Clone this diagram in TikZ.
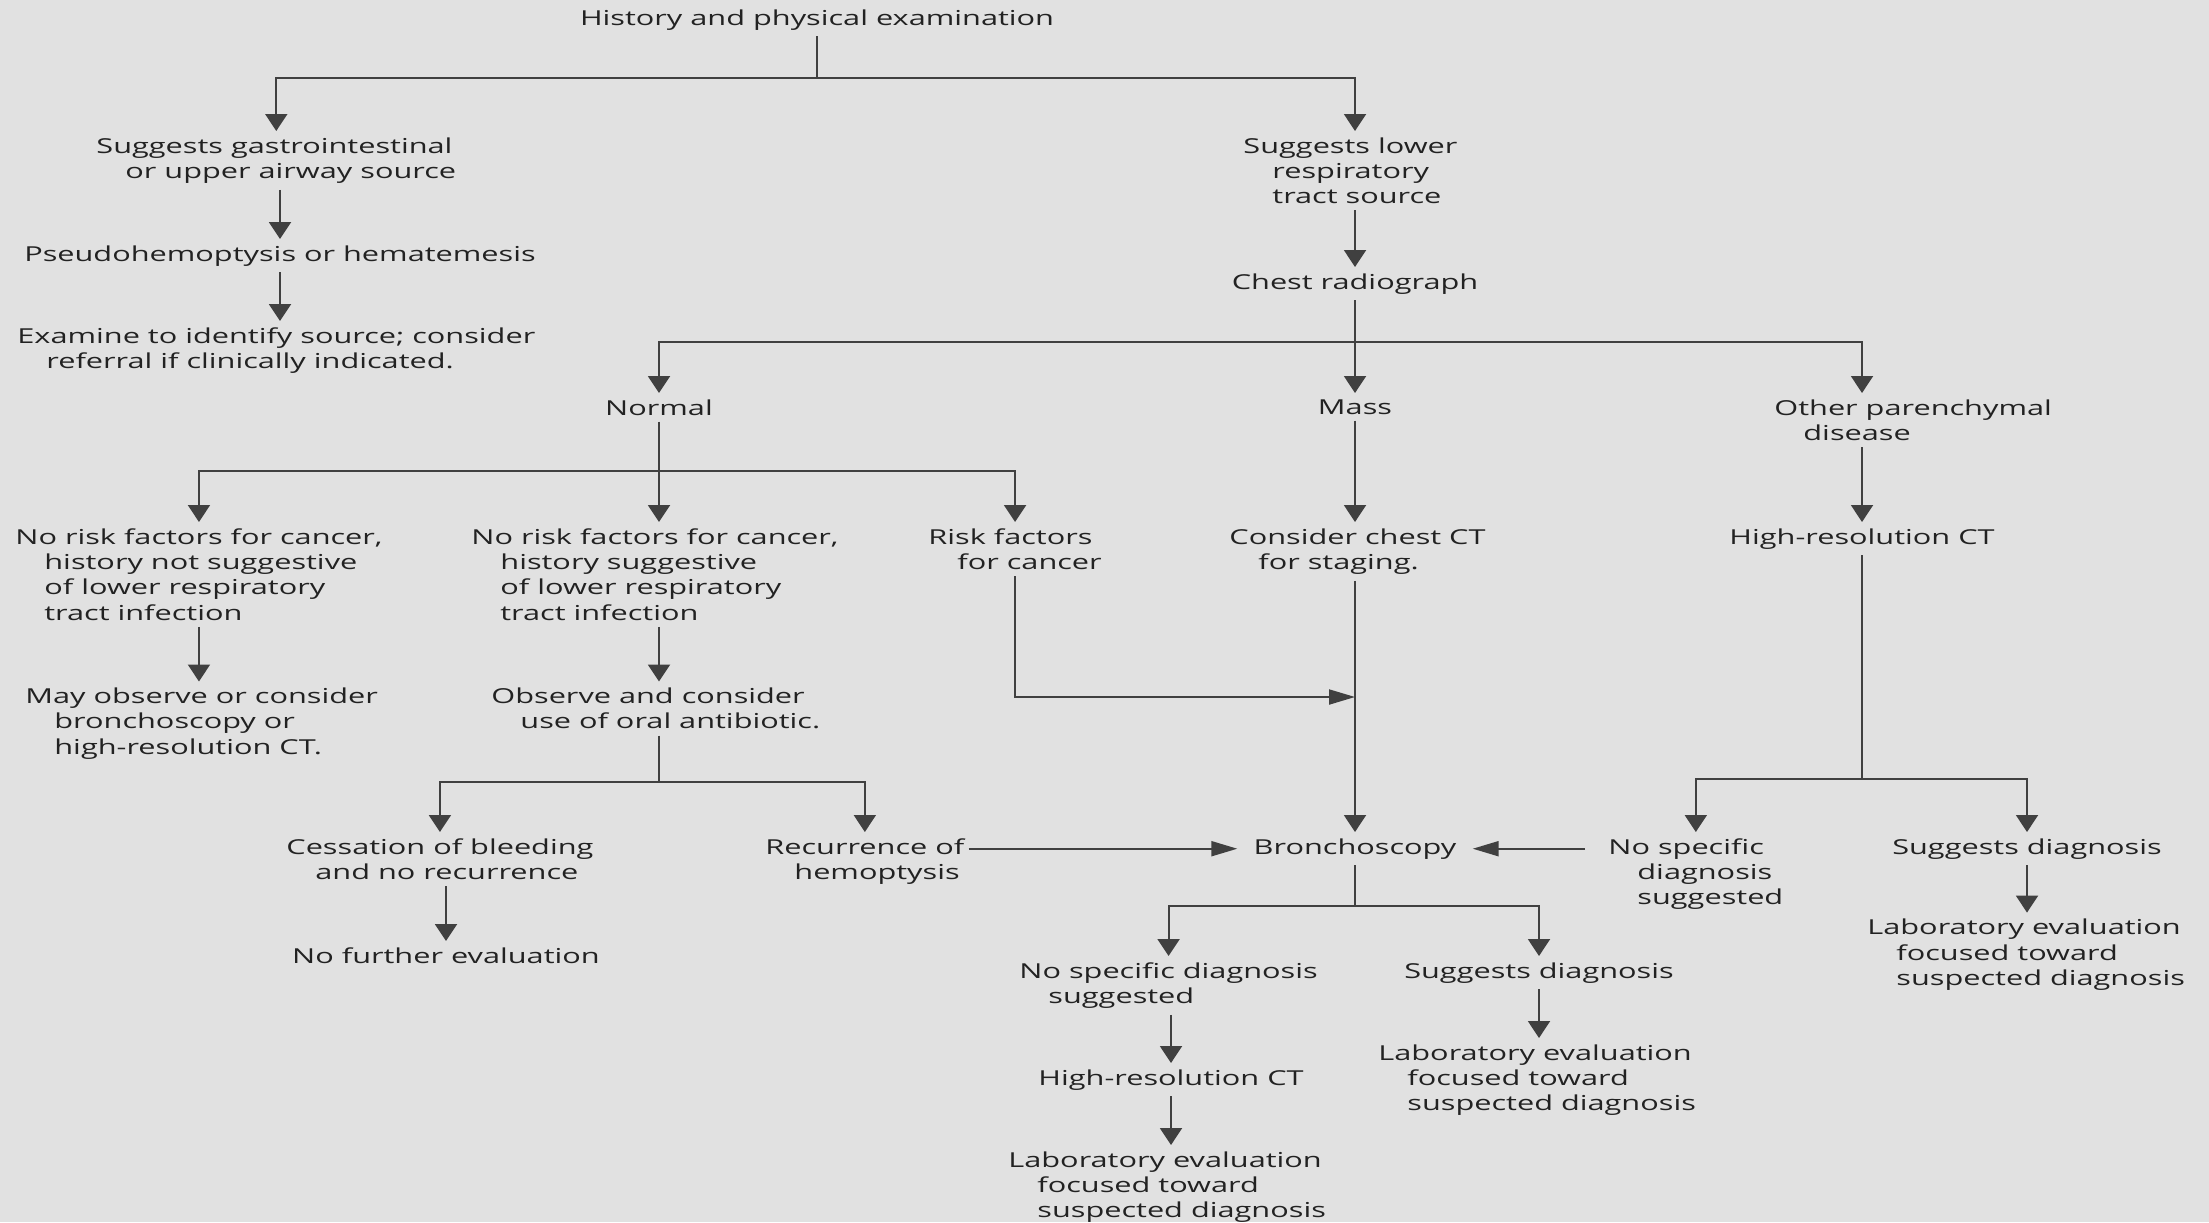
\documentclass[tikz,border=0pt]{standalone}
\usepackage{fontspec}
\setmainfont[FakeStretch=1.49]{Open Sans}
\usetikzlibrary{arrows.meta}
\definecolor{bggray}{HTML}{E1E1E1}
\definecolor{txtgray}{HTML}{222222}
\definecolor{linegray}{HTML}{404040}
\newcommand{\ind}{\hspace*{14.5pt}}
\tikzset{
  box/.style={inner xsep=2pt, inner ysep=3pt, align=left, anchor=north west, text=txtgray,
    font=\fontsize{10.3}{12.7}\selectfont},
  cbox/.style={box, anchor=north, align=center},
  link/.style={draw=linegray, line width=1pt},
  varr/.style={link, -{Triangle[width=11pt,length=8.5pt]}},
  harr/.style={link, -{Triangle[width=7.5pt,length=13pt]}},
}

\begin{document}
\begin{tikzpicture}[x=0.5pt,y=-0.5pt]
    \fill[bggray] (0,0) rectangle (2209,1222);
    \useasboundingbox (0,0) rectangle (2209,1222);

    % left branch
    \node[cbox] (hist) at (817,3) {History and physical examination};
    \node[box] (gisrc) at (92,131) {Suggests gastrointestinal\\\ind or upper airway source};
    \node[cbox] (pseudo) at (280,239) {Pseudohemoptysis or hematemesis};
    \node[box] (examine) at (13,321) {Examine to identify source; consider\\\ind referral if clinically indicated.};

    % right branch
    \node[box] (lowsrc) at (1239,131) {Suggests lower\\\ind respiratory\\\ind tract source};
    \node[cbox] (chest) at (1355,267) {Chest radiograph};
    \node[cbox] (normal) at (659,393) {Normal};
    \node[cbox] (mass) at (1355,393) {Mass};
    \node[box] (other) at (1770,393) {Other parenchymal\\\ind disease};

    \node[box] (nrf1) at (11,522) {No risk factors for cancer,\\\ind history not suggestive\\\ind of lower respiratory\\\ind tract infection};
    \node[box] (nrf2) at (467,522) {No risk factors for cancer,\\\ind history suggestive\\\ind of lower respiratory\\\ind tract infection};
    \node[box] (rf) at (924,522) {Risk factors\\\ind for cancer};
    \node[box] (staging) at (1225,522) {Consider chest CT\\\ind for staging.};
    \node[cbox] (hrct1) at (1862,522) {High-resolution CT};

    \node[box] (mayobs) at (21,681.5) {May observe or consider\\\ind bronchoscopy or\\\ind high-resolution CT.};
    \node[box] (obsabx) at (487,681.5) {Observe and consider\\\ind use of oral antibiotic.};

    \node[box] (cessation) at (282,832) {Cessation of bleeding\\\ind and no recurrence};
    \node[box] (recur) at (761,832) {Recurrence of\\\ind hemoptysis};
    \node[cbox, inner xsep=8pt] (bronch) at (1355,832) {Bronchoscopy};
    \node[box] (nospec1) at (1604,832) {No specific\\\ind diagnosis\\\ind suggested};
    \node[cbox] (suggdx1) at (2027,832) {Suggests diagnosis};

    \node[box] (lab1) at (1863,912.6) {Laboratory evaluation\\\ind focused toward\\\ind suspected diagnosis};
    \node[cbox] (nofurther) at (446,941) {No further evaluation};
    \node[box] (nospec2) at (1015,956) {No specific diagnosis\\\ind suggested};
    \node[cbox] (suggdx2) at (1539,956) {Suggests diagnosis};
    \node[box] (lab2) at (1374,1038) {Laboratory evaluation\\\ind focused toward\\\ind suspected diagnosis};
    \node[cbox] (hrct2) at (1171,1063) {High-resolution CT};
    \node[box] (lab3) at (1004,1145) {Laboratory evaluation\\\ind focused toward\\\ind suspected diagnosis};

    % branch points
    \coordinate (jHist) at (817,77.5);
    \coordinate (jChest) at (1355,342);
    \coordinate (jNormal) at (659,470.5);
    \coordinate (jRisk) at (1355,697);
    \coordinate (jHrct) at (1862,779);
    \coordinate (jObs) at (659,782);
    \coordinate (jBronch) at (1355,906);

    \draw[link] (hist.south) -- (jHist);
    \draw[varr] (jHist) -| (gisrc.north);
    \draw[varr] (jHist) -| (chest.north |- lowsrc.north);
    \draw[varr] (pseudo.north |- gisrc.south) -- (pseudo.north);
    \draw[varr] (pseudo.south) -- (pseudo.south |- examine.north);

    \draw[varr] (chest.north |- lowsrc.south) -- (chest.north);
    \draw[varr] (chest.south) -- (mass.north);
    \draw[varr] (jChest) -| (normal.north);
    \draw[varr] (jChest) -| (hrct1.north |- other.north);

    \draw[varr] (normal.south) -- (normal.south |- nrf2.north);
    \draw[varr] (jNormal) -| (nrf1.north);
    \draw[varr] (jNormal) -| (rf.north);
    \draw[varr] (mass.south) -- (mass.south |- staging.north);
    \draw[varr] (hrct1.north |- other.south) -- (hrct1.north);

    \draw[varr] (nrf1.south) -- (nrf1.south |- mayobs.north);
    \draw[varr] (normal.south |- nrf2.south) -- (normal.south |- obsabx.north);
    \draw[harr] (rf.south) |- (jRisk);
    \draw[varr] (mass.south |- staging.south) -- (bronch.north);

    \draw[link] (obsabx.south -| jObs) -- (jObs);
    \draw[varr] (jObs) -| (cessation.north);
    \draw[varr] (jObs) -| (recur.north);
    \draw[varr] (nofurther.north |- cessation.south) -- (nofurther.north);
    \draw[harr] (recur.east |- bronch) -- (bronch.west);
    \draw[harr, shorten <=9.5pt] (nospec1.west |- bronch) -- (bronch.east);

    \draw[link] (hrct1.south) -- (jHrct);
    \draw[varr] (jHrct) -| (nospec1.north);
    \draw[varr] (jHrct) -| (suggdx1.north);
    \draw[varr] (suggdx1.south) -- (suggdx1.south |- lab1.north);

    \draw[link] (bronch.south) -- (jBronch);
    \draw[varr] (jBronch) -| (nospec2.north);
    \draw[varr] (jBronch) -| (suggdx2.north);
    \draw[varr] (hrct2.north |- nospec2.south) -- (hrct2.north);
    \draw[varr] (suggdx2.south) -- (suggdx2.south |- lab2.north);
    \draw[varr] (hrct2.south) -- (hrct2.south |- lab3.north);
\end{tikzpicture}
\end{document}
